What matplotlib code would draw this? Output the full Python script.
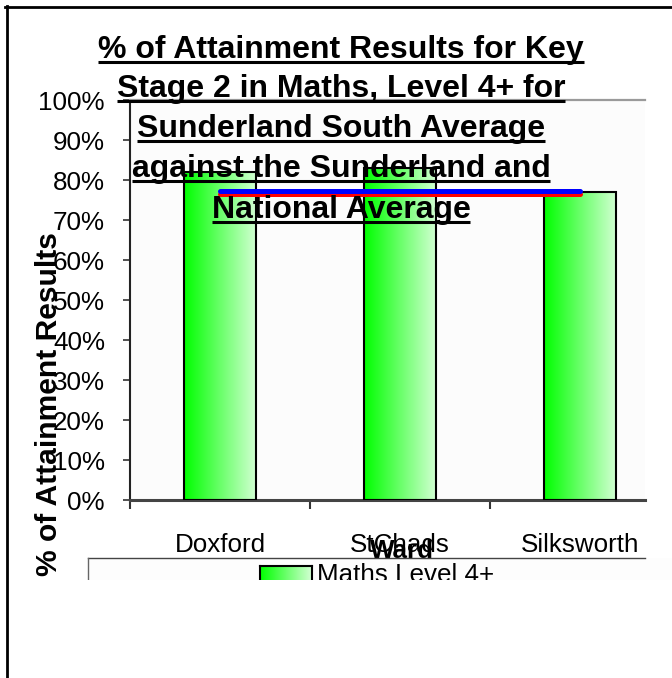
import matplotlib
matplotlib.use("Agg")
import matplotlib.pyplot as plt
import numpy as np

from matplotlib.colors import LinearSegmentedColormap
from matplotlib.lines import Line2D
from matplotlib.patches import Rectangle

plt.rcParams["font.family"] = ["Liberation Sans", "DejaVu Sans"]

W, H, DPI = 672, 678, 100

wards = ["Doxford", "StChads", "Silksworth"]
maths_level4 = [82, 83, 77]
sunderland_avg = [76.5, 76.5, 76.5]
national_avg = [77.2, 77.2, 77.2]
y_ticks = list(range(0, 101, 10))
title_lines = [
    "% of Attainment Results for Key",
    "Stage 2 in Maths, Level 4+ for",
    "Sunderland South Average",
    "against the Sunderland and",
    "National Average",
]


def fx(x):
    return x / W


def fy(y):
    return 1 - y / H


fig = plt.figure(figsize=(W / DPI, H / DPI), dpi=DPI)
fig.patch.set_facecolor("white")

# plot area in pixel terms: x 130..645, y 100..500
ax = fig.add_axes([fx(130), fy(500), (645 - 130) / W, 400 / H])
ax.set_facecolor("#fcfcfc")

green = LinearSegmentedColormap.from_list("green_fade", ["#00ff00", "#d4ffd4"])
gradient = np.linspace(0, 1, 256).reshape(1, -1)

xpos = np.arange(len(wards))
bars = ax.bar(xpos, maths_level4, width=0.405, facecolor="none",
              edgecolor="black", linewidth=1.5, zorder=3)
for b in bars:
    x0, y0, w, h = b.get_x(), b.get_y(), b.get_width(), b.get_height()
    im = ax.imshow(gradient, cmap=green, extent=(x0, x0 + w, y0, y0 + h),
                   aspect="auto", zorder=2)
    im.set_clip_path(b)

ax.plot(xpos, sunderland_avg, color="#ff0000", linewidth=3.6,
        solid_capstyle="round", zorder=4)
ax.plot(xpos, national_avg, color="#0000ff", linewidth=3.6,
        solid_capstyle="round", zorder=5)

ax.set_xlim(-0.5, -0.5 + 515 / 180)
ax.set_ylim(0, 100)

ax.set_xticks(xpos)
ax.set_xticklabels(wards, fontsize=18.7)
ax.set_xticks([-0.5, 0.5, 1.5], minor=True)
ax.tick_params(axis="x", which="major", length=0, pad=24)
ax.tick_params(axis="x", which="minor", length=6.5, width=1.5, color="#333333")

ax.set_yticks(y_ticks)
ax.set_yticklabels([f"{t}%" for t in y_ticks], fontsize=18.7)
ax.tick_params(axis="y", length=5, width=1.2, color="#333333", pad=13)

ax.spines["right"].set_visible(False)
ax.spines["left"].set_color("#222222")
ax.spines["left"].set_linewidth(1.5)
ax.spines["bottom"].set_color("#444444")
ax.spines["bottom"].set_linewidth(2.2)
ax.spines["top"].set_color("#9a9a9a")
ax.spines["top"].set_linewidth(1.6)

# underlined title, one line at a time
baselines = [58, 97, 137, 177, 218]
title_texts = []
for line, base in zip(title_lines, baselines):
    t = fig.text(fx(341), fy(base), line, ha="center", va="baseline",
                 fontsize=23, fontweight="bold", zorder=6)
    title_texts.append((t, base))

fig.text(fx(49), fy(404), "% of Attainment Results", rotation=90,
         ha="center", va="center", fontsize=21.6, fontweight="bold", zorder=6)
fig.text(fx(402), fy(551), "Ward", ha="center", va="center",
         fontsize=18.7, fontweight="bold", zorder=6)

# legend box (only top and left edges show)
fig.add_artist(Rectangle((fx(88), fy(620)), (672 - 88) / W, 62 / H,
                         transform=fig.transFigure, facecolor="#fdfdfd",
                         edgecolor="none", zorder=7))
fig.add_artist(Line2D([fx(88), fx(645)], [fy(558), fy(558)],
                      transform=fig.transFigure, color="#444444", lw=1.0, zorder=8))
fig.add_artist(Line2D([fx(88), fx(88)], [fy(558), fy(620)],
                      transform=fig.transFigure, color="#666666", lw=1.0, zorder=8))
leg_ax = fig.add_axes([fx(260), fy(590), 52 / W, 24 / H], zorder=9)
leg_ax.imshow(gradient, cmap=green, aspect="auto")
leg_ax.set_xticks([])
leg_ax.set_yticks([])
for s in leg_ax.spines.values():
    s.set_color("black")
    s.set_linewidth(1.5)
fig.text(fx(317), fy(563), "Maths Level 4+", ha="left", va="top",
         fontsize=18.7, zorder=10)

# everything below y=580 is blank
fig.add_artist(Rectangle((fx(9), 0), 1, fy(580), transform=fig.transFigure,
                         facecolor="white", edgecolor="none", zorder=20))

# outer frame
fig.add_artist(Line2D([fx(5), 1], [fy(7), fy(7)], transform=fig.transFigure,
                      color="black", lw=2, zorder=21))
fig.add_artist(Line2D([fx(6.5), fx(6.5)], [fy(6), 0], transform=fig.transFigure,
                      color="black", lw=2, zorder=21))

fig.canvas.draw()
renderer = fig.canvas.get_renderer()
for t, base in title_texts:
    bb = t.get_window_extent(renderer)
    fig.add_artist(Line2D([bb.x0 / W, bb.x1 / W], [fy(base + 4), fy(base + 4)],
                          transform=fig.transFigure, color="black", lw=2.2,
                          solid_capstyle="butt", zorder=6))

fig.savefig("out.png", dpi=DPI)
